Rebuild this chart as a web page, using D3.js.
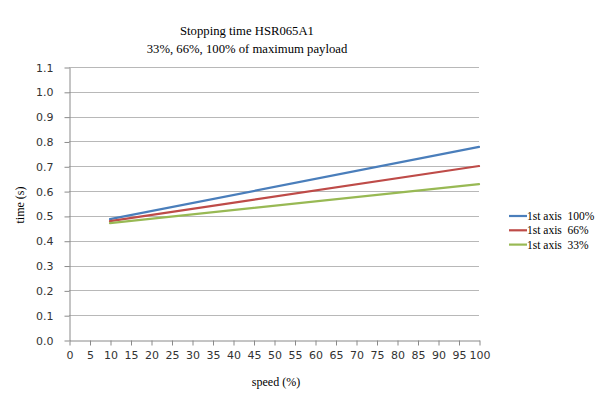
<!DOCTYPE html>
<html>
<head>
<meta charset="utf-8">
<script src="https://cdn.jsdelivr.net/npm/d3@7"></script>
<style>
  body { margin: 0; background: #fff; }
  svg { display: block; }
</style>
</head>
<body>
<div id="chart"></div>
<script>
// chart data
const speeds = [10, 100];
const series100 = [0.487, 0.778];
const series66 = [0.479, 0.701];
const series33 = [0.471, 0.628];
const seriesNames = ['1st axis  100%', '1st axis  66%', '1st axis  33%'];
const seriesColors = ['#4a7ebb', '#be4b48', '#98b954'];
const xTicks = d3.range(0, 101, 5);
const yTicks = d3.range(0, 12).map(d => d / 10);
const titleLines = ['Stopping time HSR065A1', '33%, 66%, 100% of maximum payload'];

const width = 600, height = 397;
const margin = {top: 67, bottom: 57, left: 69, right: 121};

const svg = d3.select('#chart').append('svg')
  .attr('width', width)
  .attr('height', height);

const x = d3.scaleLinear().domain([0, 100]).range([margin.left, width - margin.right]);
const y = d3.scaleLinear().domain([0, 1.1]).range([height - margin.bottom, margin.top]);

// gridlines
svg.append('g')
  .attr('class', 'grid')
  .selectAll('line')
  .data(yTicks.filter(d => d > 0))
  .enter().append('line')
    .attr('x1', x(0))
    .attr('x2', x(100))
    .attr('y1', d => Math.round(y(d)) + 0.5)
    .attr('y2', d => Math.round(y(d)) + 0.5)
    .attr('stroke', '#b8b8b8')
    .attr('stroke-width', 1);

// Y axis
const yAxis = svg.append('g')
  .attr('transform', 'translate(' + (Math.round(x(0)) + 0.5) + ',0.5)')
  .call(d3.axisLeft(y).tickValues(yTicks).tickFormat(d3.format('.1f')).tickSizeOuter(0).tickSizeInner(5).tickPadding(11));
yAxis.select('.domain').attr('stroke', '#8a8a8a');
yAxis.selectAll('.tick line').attr('stroke', '#8a8a8a');
yAxis.selectAll('.tick text')
  .attr('fill', '#333')
  .style('font-family', 'DejaVu Sans')
  .style('font-size', '11px');

// X axis
const xAxis = svg.append('g')
  .attr('transform', 'translate(0.5,' + (Math.round(y(0)) + 0.5) + ')')
  .call(d3.axisBottom(x).tickValues(xTicks).tickFormat(d3.format('d')).tickSizeOuter(0).tickSizeInner(5).tickPadding(6));
xAxis.select('.domain').attr('stroke', '#8a8a8a');
xAxis.selectAll('.tick line').attr('stroke', '#8a8a8a');
xAxis.selectAll('.tick text')
  .attr('fill', '#333')
  .style('font-family', 'DejaVu Sans')
  .style('font-size', '11px');

// Lines
const seriesData = [series100, series66, series33].map((vals, i) => ({
  key: seriesNames[i],
  color: seriesColors[i],
  values: vals.map((v, j) => ({speed: speeds[j], time: v}))
}));

const line = d3.line()
  .x(d => x(d.speed))
  .y(d => y(d.time));

svg.append('g')
  .attr('class', 'lines')
  .selectAll('path')
  .data(seriesData)
  .enter().append('path')
    .attr('d', d => line(d.values))
    .attr('stroke', d => d.color)
    .attr('stroke-width', 2.2)
    .attr('stroke-linecap', 'round')
    .attr('fill', 'none');

// Title
svg.append('g')
  .selectAll('text')
  .data(titleLines)
  .enter().append('text')
    .attr('x', 247)
    .attr('y', (d, i) => 35 + i * 18)
    .attr('text-anchor', 'middle')
    .style('font-family', 'Liberation Serif')
    .style('font-size', '12.7px')
    .attr('fill', '#000')
    .text(d => d);

// Axis titles
svg.append('text')
  .attr('x', 276)
  .attr('y', 386)
  .attr('text-anchor', 'middle')
  .style('font-family', 'Liberation Serif')
  .style('font-size', '12px')
  .text('speed (%)');

svg.append('text')
  .attr('transform', 'translate(24,205) rotate(-90)')
  .attr('text-anchor', 'middle')
  .style('font-family', 'Liberation Serif')
  .style('font-size', '12px')
  .text('time (s)');

// Legend
const legends = svg.append('g')
  .attr('class', 'legends')
  .attr('transform', 'translate(509,216)')
  .selectAll('g')
  .data(seriesData)
  .enter().append('g')
    .attr('transform', (d, i) => 'translate(0,' + i * 14.3 + ')');

legends.append('line')
  .attr('x1', 0)
  .attr('x2', 18)
  .attr('stroke', d => d.color)
  .attr('stroke-width', 2.2);

legends.append('text')
  .attr('x', 18)
  .attr('y', 4)
  .style('font-family', 'Liberation Serif')
  .style('font-size', '11.5px')
  .style('white-space', 'pre')
  .attr('xml:space', 'preserve')
  .text(d => d.key);
</script>
</body>
</html>
